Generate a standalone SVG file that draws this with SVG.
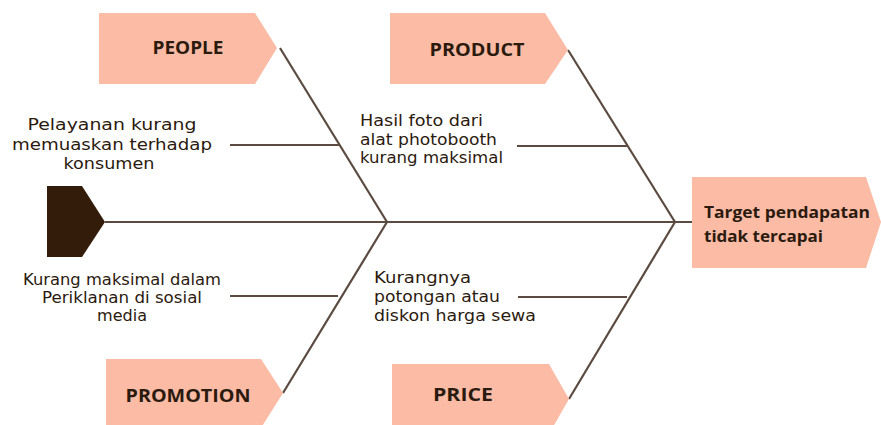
<svg xmlns="http://www.w3.org/2000/svg" width="881" height="425" viewBox="0 0 881 425">
<style>
.box{fill:#fbbba5}
.lbl{font-family:"Open Sans","DejaVu Sans",sans-serif;font-weight:bold;font-size:17px;fill:#2b1a0e;text-anchor:middle}
.tgt{font-family:"Open Sans","DejaVu Sans",sans-serif;font-weight:bold;font-size:16.5px;fill:#2b1a0e}
.txt{font-family:"DejaVu Sans","Liberation Sans",sans-serif;font-size:15px;fill:#2b1a0e}
.mid{text-anchor:middle}
.ln{stroke:#5a4a40;stroke-width:2.2;fill:none}
</style>
<rect width="881" height="425" fill="#ffffff"/>
<g id="connectors">
<line class="ln" x1="105" y1="222" x2="692" y2="222"/>
<line class="ln" x1="280" y1="48" x2="387" y2="222"/>
<line class="ln" x1="283" y1="393" x2="387" y2="222"/>
<line class="ln" x1="568" y1="50" x2="675" y2="222"/>
<line class="ln" x1="569" y1="399" x2="675" y2="222"/>
<line class="ln" x1="230" y1="145" x2="340" y2="145"/>
<line class="ln" x1="230" y1="296" x2="338" y2="296"/>
<line class="ln" x1="517" y1="146" x2="627" y2="146"/>
<line class="ln" x1="518" y1="297" x2="627" y2="297"/>
</g>
<g id="tail">
<polygon points="47,186 82,186 105,222 82,257 47,257" fill="#341c0a"/>
</g>
<g id="people">
<polygon class="box" points="99,13 255,13 277,48 255,84 99,84"/>
<text class="lbl" x="188" y="54" textLength="71" lengthAdjust="spacingAndGlyphs">PEOPLE</text>
</g>
<g id="product">
<polygon class="box" points="390,13 545,13 568,50 545,84 390,84"/>
<text class="lbl" x="477" y="56" textLength="95" lengthAdjust="spacingAndGlyphs">PRODUCT</text>
</g>
<g id="promotion">
<polygon class="box" points="106,359 261,359 283,393 261,428 106,428"/>
<text class="lbl" x="188" y="402" textLength="125" lengthAdjust="spacingAndGlyphs">PROMOTION</text>
</g>
<g id="price">
<polygon class="box" points="392,364 549,364 569,399 549,434 392,434"/>
<text class="lbl" x="463" y="401" textLength="60" lengthAdjust="spacingAndGlyphs">PRICE</text>
</g>
<g id="target">
<polygon class="box" points="692,177 866,177 881,222 866,268 692,268"/>
<text class="tgt" x="704" y="218" textLength="166" lengthAdjust="spacingAndGlyphs">Target pendapatan</text>
<text class="tgt" x="704" y="242" textLength="119" lengthAdjust="spacingAndGlyphs">tidak tercapai</text>
</g>
<g id="cause-people">
<text class="txt mid" x="112" y="130" textLength="169" lengthAdjust="spacingAndGlyphs">Pelayanan kurang</text>
<text class="txt mid" x="112" y="150" textLength="200" lengthAdjust="spacingAndGlyphs">memuaskan terhadap</text>
<text class="txt mid" x="109" y="169" textLength="91" lengthAdjust="spacingAndGlyphs">konsumen</text>
</g>
<g id="cause-product">
<text class="txt" x="360" y="126" textLength="123" lengthAdjust="spacingAndGlyphs">Hasil foto dari</text>
<text class="txt" x="360" y="145" textLength="137" lengthAdjust="spacingAndGlyphs">alat photobooth</text>
<text class="txt" x="360" y="163" textLength="143" lengthAdjust="spacingAndGlyphs">kurang maksimal</text>
</g>
<g id="cause-promotion">
<text class="txt mid" x="122" y="285" textLength="198" lengthAdjust="spacingAndGlyphs">Kurang maksimal dalam</text>
<text class="txt mid" x="122" y="303" textLength="160" lengthAdjust="spacingAndGlyphs">Periklanan di sosial</text>
<text class="txt mid" x="122" y="321" textLength="50" lengthAdjust="spacingAndGlyphs">media</text>
</g>
<g id="cause-price">
<text class="txt" x="374" y="283" textLength="97" lengthAdjust="spacingAndGlyphs">Kurangnya</text>
<text class="txt" x="374" y="302" textLength="126" lengthAdjust="spacingAndGlyphs">potongan atau</text>
<text class="txt" x="374" y="321" textLength="162" lengthAdjust="spacingAndGlyphs">diskon harga sewa</text>
</g>
</svg>
